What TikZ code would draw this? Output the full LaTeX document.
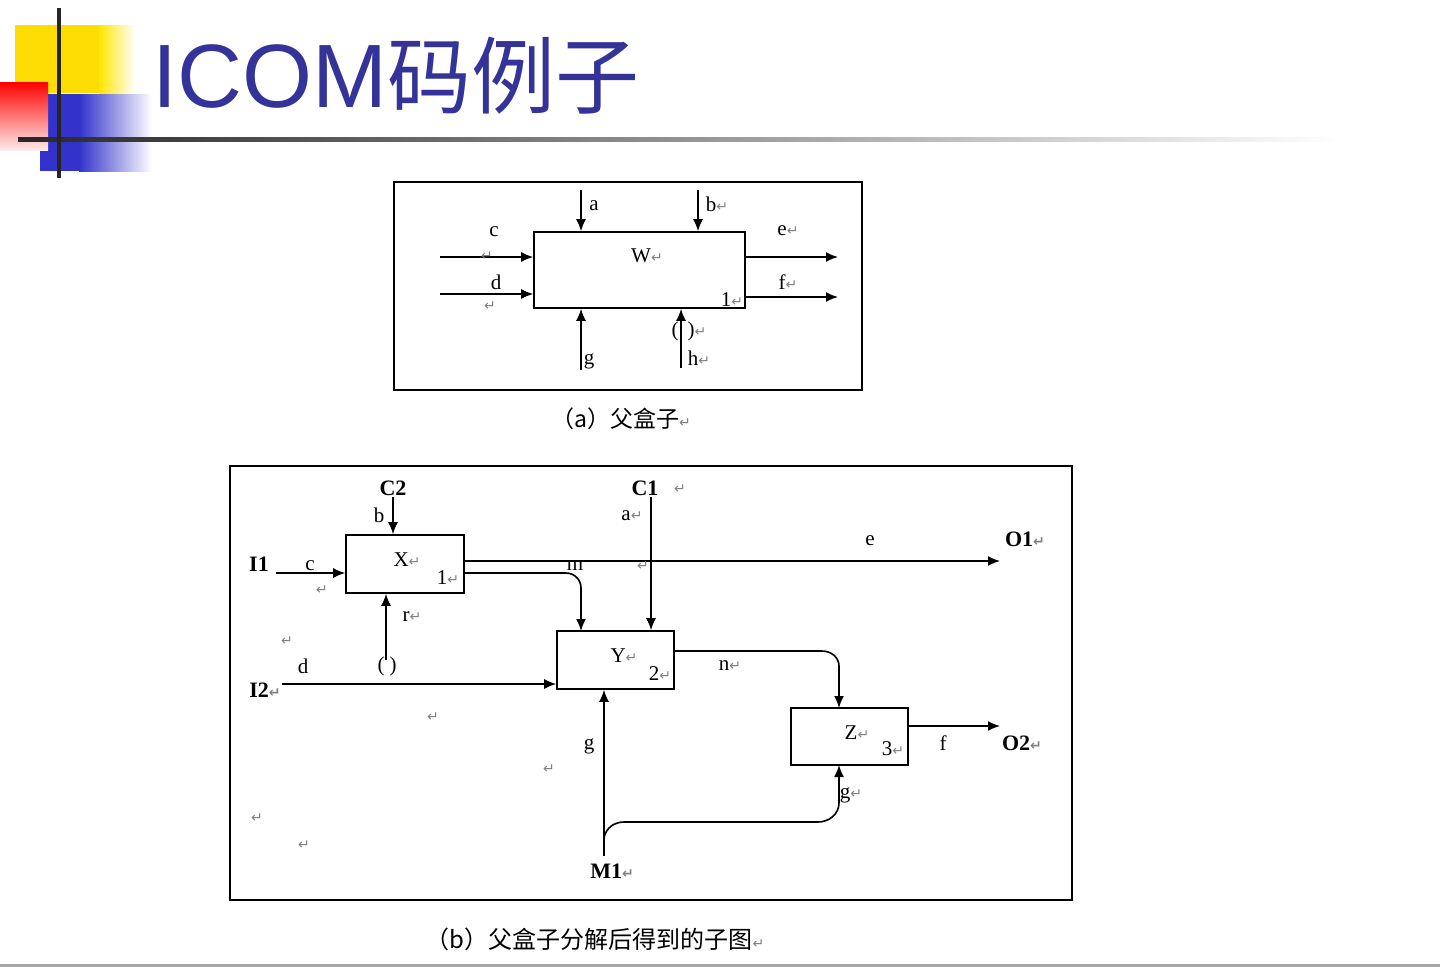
\documentclass[tikz,border=0pt]{standalone}
\usepackage{fontspec}
\setmainfont{Liberation Serif}
\newfontfamily\cjk{Noto Sans CJK SC}
\newfontfamily\symf{DejaVu Sans}
\newfontfamily\titf{Liberation Sans}
\usetikzlibrary{arrows.meta}
\definecolor{titc}{HTML}{333399}
\newcommand{\ret}{{\color{gray}\symf\fontsize{14}{14}\selectfont ↵}}
\begin{document}
\begin{tikzpicture}[x=1pt,y=-1pt,
  every node/.style={inner sep=0pt,font=\fontsize{21}{21}\selectfont},
  box/.style={draw,line width=1.6pt},
  frame/.style={draw,line width=1.8pt},
  arr/.style={line width=1.6pt,-{Latex[length=12pt,width=10pt]}},
  bl/.style={font=\fontsize{22}{22}\selectfont\bfseries}]
\useasboundingbox (0,0) rectangle (1440,967);
% title decoration
\fill[yellow!80!orange] (15,25) rectangle (100,93);
\shade[left color=yellow!80!orange,right color=white] (99,25) rectangle (135,93);
\fill[blue!75!black!80] (40,94) rectangle (80,171);
\shade[left color=blue!75!black!80,right color=white] (79,94) rectangle (152,171);
\shade[shading angle=45,top color=red,bottom color=red!8] (0,82) rectangle (48,150);
\shade[left color=black!85,right color=white] (18,137) rectangle (1340,141);
\fill[black!85] (57,8) rectangle (61,178);
\node[anchor=base west,text=titc,font=\titf\fontsize{90}{90}\selectfont] (title) at (152,107) {ICOM{\cjk\fontsize{84}{84}\selectfont 码例子}};
% ---- (a)
\draw[frame] (394,182) rectangle (862,390);
\node[box,minimum width=211pt,minimum height=76pt] (W) at (639.5,270) {};
\coordinate (a0) at (581,190); \coordinate (b0) at (698,190);
\coordinate (c0) at (440,257); \coordinate (d0) at (440,294);
\coordinate (e1) at (838,257); \coordinate (f1) at (838,297);
\coordinate (g0) at (581,370); \coordinate (h0) at (681,368);
\draw[arr] (a0) -- (a0 |- W.north);
\draw[arr] (b0) -- (b0 |- W.north);
\draw[arr] (c0) -- (c0 -| W.west);
\draw[arr] (d0) -- (d0 -| W.west);
\draw[arr] (e1 -| W.east) -- (e1);
\draw[arr] (f1 -| W.east) -- (f1);
\draw[arr] (g0) -- (g0 |- W.south);
\draw[arr] (h0) -- (h0 |- W.south);
\node at (594,206) {a};
\node at (717,204) {b\ret};
\node at (494,232) {c};
\node at (487,256) {\ret};
\node at (496,282) {d};
\node at (490,306) {\ret};
\node at (647,256) {W\ret};
\node at (788,231) {e\ret};
\node at (788,282) {f\ret};
\node at (732,300) {1\ret};
\node at (589,361) {g};
\node at (689,331) {(\hspace{9pt})\ret};
\node at (699,358) {h\ret};
\node[font=\cjk\fontsize{23}{23}\selectfont] (capa) at (621,419) {（a）父盒子\ret};
% ---- (b)
\draw[frame] (230,466) rectangle (1072,900);
\node[box,minimum width=118pt,minimum height=58pt] (X) at (405,564) {};
\node[box,minimum width=117pt,minimum height=58pt] (Y) at (615.5,660) {};
\node[box,minimum width=117pt,minimum height=57pt] (Z) at (849.5,736.5) {};
\node at (407,560) {X\ret};
\node at (448,578) {1\ret};
\node at (624,656) {Y\ret};
\node at (660,674) {2\ret};
\node at (857,733) {Z\ret};
\node at (893,749) {3\ret};
\coordinate (C2) at (393,497);
\coordinate (I1) at (276,573);
\coordinate (O1) at (1000,561);
\coordinate (C1) at (651,497);
\coordinate (R0) at (386,660);
\coordinate (I2) at (282,684);
\coordinate (O2) at (1000,726);
\coordinate (M1) at (604,856);
\coordinate (Mb) at (604,838);
\draw[arr] (C2) -- (C2 |- X.north);
\draw[arr] (I1) -- (I1 -| X.west);
\draw[arr] (O1 -| X.east) -- (O1);
\draw[arr] (464,573) -- (566,573) to[out=0,in=90] (581,588) -- (581,631);
\draw[arr] (C1) -- (C1 |- Y.north);
\draw[arr] (R0) -- (R0 |- X.south);
\draw[arr] (I2) -- (I2 -| Y.west);
\draw[arr] (674,651) -- (822,651) to[out=0,in=90] (839,666) -- (839,708);
\draw[arr] (O2 -| Z.east) -- (O2);
\draw[arr] (M1) -- (M1 |- Y.south);
\draw[arr] (Mb) to[out=80,in=180] (624,822) -- (818,822) to[out=0,in=-90] (839,803) -- (839,765);
\node[bl] at (393,488) {C2};
\node at (379,515) {b};
\node[bl] at (259,564) {I1};
\node at (310,566) {c};
\node at (322,590) {\ret};
\node at (870,541) {e};
\node[bl] at (1025,539) {O1\ret};
\node at (575,566) {m};
\node at (643,566) {\ret};
\node[bl] at (645,488) {C1};
\node at (680,489) {\ret};
\node at (632,516) {a\ret};
\node at (412,617) {r\ret};
\node at (387,666) {(\hspace{5pt})};
\node at (287,641) {\ret};
\node at (303,666) {d};
\node[bl] at (265,690) {I2\ret};
\node at (730,666) {n\ret};
\node at (943,743) {f};
\node[bl] at (1022,743) {O2\ret};
\node[bl] at (612,871) {M1\ret};
\node at (589,746) {g};
\node at (851,795) {g\ret};
\node at (433,717) {\ret};
\node at (549,769) {\ret};
\node at (257,818) {\ret};
\node at (304,845) {\ret};
\node[font=\cjk\fontsize{24}{24}\selectfont] (capb) at (595,939) {（b）父盒子分解后得到的子图\ret};
\fill[gray!70] (0,964) rectangle (1440,967);
\end{tikzpicture}
\end{document}
